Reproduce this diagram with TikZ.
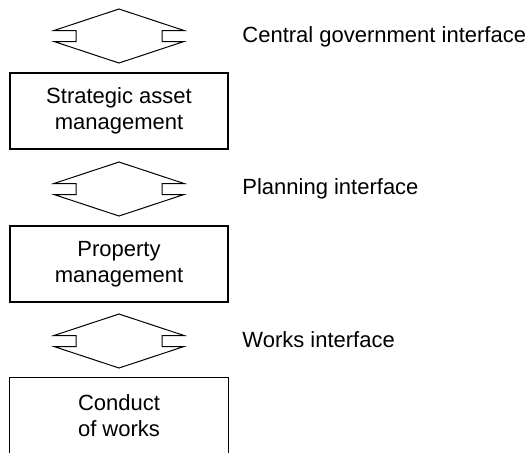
\documentclass[tikz,border=0pt]{standalone}
\usepackage{fontspec}
\setmainfont{Liberation Sans}
\usetikzlibrary{positioning}
\tikzset{
  unit/.style={draw, line width=0.6pt, minimum width=109pt, minimum height=38pt, align=center, inner sep=0pt, font=\fontsize{11}{13}\selectfont},
  openunit/.style={unit, draw=none},
  ifacelabel/.style={anchor=base west, inner sep=0pt, font=\fontsize{11}{13}\selectfont},
  iface/.pic={
    \draw[line width=0.5pt] (0,-27) -- (-65,-5.5) -- (-43,-5.5) -- (-43,5.5) -- (-65,5.5)
      -- (0,27) -- (65,5.5) -- (43,5.5) -- (43,-5.5) -- (65,-5.5) -- cycle;
  },
}
\begin{document}
\begin{tikzpicture}[x=0.5pt, y=-0.5pt]
  \useasboundingbox (0,0) rectangle (530,452);

  % interfaces
  \coordinate (gov) at (119,36);
  \coordinate (plan) at (119,189);
  \coordinate (works) at (119,341);
  \pic at (gov) {iface};
  \pic at (plan) {iface};
  \pic at (works) {iface};

  \node[ifacelabel] (govlabel) at (242,42) {Central government interface};
  \node[ifacelabel] (planlabel) at (242,194) {Planning interface};
  \node[ifacelabel] (workslabel) at (242,347) {Works interface};

  % management levels
  \node[unit] (strategic) at (119,111) {Strategic asset\\management};
  \node[unit] (property) at (119,264) {Property\\management};
  \node[openunit] (conduct) at (119,416) {Conduct\\of works};
  \draw[line width=0.6pt] (conduct.south west) -- (conduct.north west)
    -- (conduct.north east) -- (conduct.south east);
\end{tikzpicture}
\end{document}
